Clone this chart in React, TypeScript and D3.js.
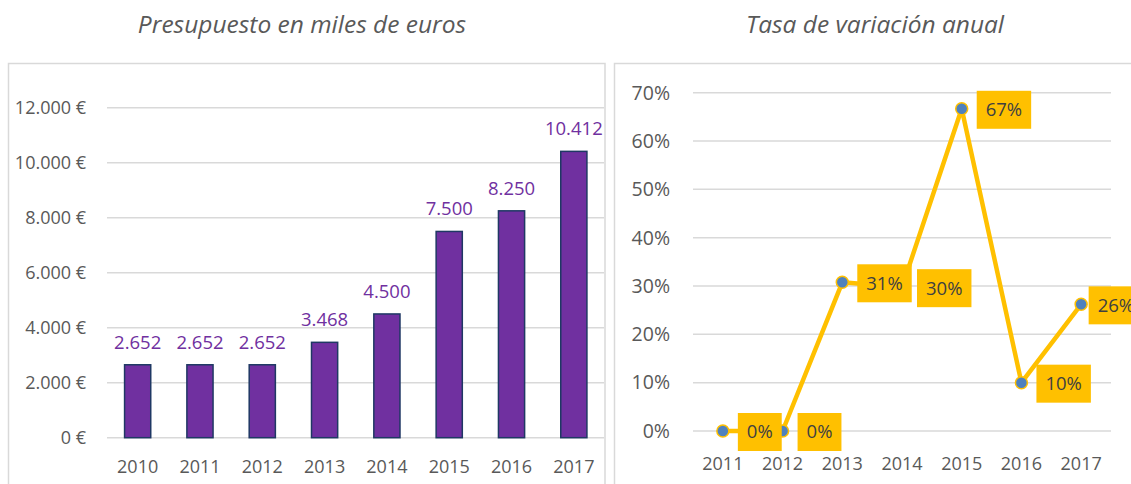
import React from "react";
import * as d3 from "d3";

const budgetYears = ["2010", "2011", "2012", "2013", "2014", "2015", "2016", "2017"];
const budgetValues = [2652, 2652, 2652, 3468, 4500, 7500, 8250, 10412];
const budgetTicks = [0, 2000, 4000, 6000, 8000, 10000, 12000];

const rateYears = ["2011", "2012", "2013", "2014", "2015", "2016", "2017"];
const rateValues = [0, 0, 0.3077, 0.2976, 0.6667, 0.1, 0.2621];
const rateTicks = [0, 0.1, 0.2, 0.3, 0.4, 0.5, 0.6, 0.7];

const leftTitle = "Presupuesto en miles de euros";
const rightTitle = "Tasa de variación anual";

const FONT = "'Open Sans', 'DejaVu Sans', sans-serif";
const GRID = "#D9D9D9";
const AXIS_TEXT = "#595959";
const PURPLE = "#7030A0";
const BAR_STROKE = "#1F3864";
const YELLOW = "#FFC000";
const MARKER = "#4F81BD";

const W = 1131;
const H = 484;

const esLocale = d3.formatLocale({
  decimal: ",",
  thousands: ".",
  grouping: [3],
  currency: ["", "\u00a0€"],
});
const fmtNum = esLocale.format(",.0f");
const fmtEuro = (v: number) => fmtNum(v) + " €";
const fmtPct = d3.format(".0%");

function measure(text: string, font: string): number {
  if (typeof document === "undefined") return text.length * 9;
  const c = document.createElement("canvas");
  const ctx = c.getContext("2d");
  if (!ctx) return text.length * 9;
  ctx.font = font;
  return ctx.measureText(text).width;
}

export default function App() {
  const xB = d3
    .scaleBand<string>()
    .domain(budgetYears)
    .range([106.5, 605])
    .paddingInner(0.58)
    .paddingOuter(0.29);
  const yB = d3.scaleLinear().domain([0, 12000]).range([437.7, 107.7]);

  const xR = d3.scalePoint<string>().domain(rateYears).range([693, 1111]).padding(0.5);
  const yR = d3.scaleLinear().domain([0, 0.7]).range([431, 92.7]);

  const line = d3
    .line<number>()
    .x((_, i) => xR(rateYears[i]) as number)
    .y((d) => yR(d));

  const labelFontSize = 18.5;
  const labelFont = `${labelFontSize}px 'Open Sans'`;
  const pad = 9;

  return (
    <svg
      width={W}
      height={H}
      style={{ position: "absolute", left: 0, top: 0, background: "#fff" }}
      fontFamily={FONT}
    >
      <text x={302} y={33} textAnchor="middle" fontSize={24.5} fontStyle="italic" fill={AXIS_TEXT}>
        {leftTitle}
      </text>
      <text x={875} y={33} textAnchor="middle" fontSize={24.5} fontStyle="italic" fill={AXIS_TEXT}>
        {rightTitle}
      </text>

      <rect x={8.5} y={63.5} width={596.5} height={440} fill="none" stroke={GRID} strokeWidth={1.5} />
      {budgetTicks.map((t) => (
        <g key={t}>
          <line x1={107} x2={604} y1={yB(t)} y2={yB(t)} stroke={GRID} strokeWidth={1.5} />
          <text x={86} y={yB(t)} dy="0.35em" textAnchor="end" fontSize={18} fill={AXIS_TEXT}>
            {fmtEuro(t)}
          </text>
        </g>
      ))}
      {budgetValues.map((v, i) => {
        const x = xB(budgetYears[i]) as number;
        const w = xB.bandwidth();
        return (
          <g key={budgetYears[i]}>
            <rect
              x={x}
              y={yB(v)}
              width={w}
              height={yB(0) - yB(v)}
              fill={PURPLE}
              stroke={BAR_STROKE}
              strokeWidth={1.5}
            />
            <text x={x + w / 2} y={yB(v) - 16} textAnchor="middle" fontSize={18.5} fill={PURPLE}>
              {fmtNum(v)}
            </text>
            <text
              x={x + w / 2}
              y={467}
              dy="0.35em"
              textAnchor="middle"
              fontSize={18}
              fill={AXIS_TEXT}
            >
              {budgetYears[i]}
            </text>
          </g>
        );
      })}

      <rect x={614.5} y={63.5} width={600} height={440} fill="none" stroke={GRID} strokeWidth={1.5} />
      {rateTicks.map((t) => (
        <g key={t}>
          <line x1={693} x2={1111} y1={yR(t)} y2={yR(t)} stroke={GRID} strokeWidth={1.5} />
          <text x={670} y={yR(t)} dy="0.35em" textAnchor="end" fontSize={19.5} fill={AXIS_TEXT}>
            {fmtPct(t)}
          </text>
        </g>
      ))}
      {rateYears.map((yr) => (
        <text
          key={yr}
          x={xR(yr) as number}
          y={464}
          dy="0.35em"
          textAnchor="middle"
          fontSize={18}
          fill={AXIS_TEXT}
        >
          {yr}
        </text>
      ))}
      <path
        d={line(rateValues) || ""}
        fill="none"
        stroke={YELLOW}
        strokeWidth={4.5}
        strokeLinejoin="round"
      />
      {rateValues.map((v, i) => (
        <circle
          key={rateYears[i]}
          cx={xR(rateYears[i]) as number}
          cy={yR(v)}
          r={6}
          fill={MARKER}
          stroke={YELLOW}
          strokeWidth={1.5}
        />
      ))}
      {rateValues.map((v, i) => {
        const label = fmtPct(v);
        const tw = measure(label, labelFont);
        const px = xR(rateYears[i]) as number;
        const bw = tw + pad * 2;
        let bx = px + 15;
        const overflow = bx + bw - W;
        if (overflow > 0) bx = Math.max(px + 7.5, bx - overflow);
        const cy = yR(v) + 1;
        const bh = 38;
        return (
          <g key={"lbl" + rateYears[i]}>
            <rect x={bx} y={cy - bh / 2} width={bw} height={bh} fill={YELLOW} />
            <text
              x={bx + pad}
              y={cy}
              dy="0.35em"
              textAnchor="start"
              fontSize={labelFontSize}
              fill="#404040"
            >
              {label}
            </text>
          </g>
        );
      })}
    </svg>
  );
}
